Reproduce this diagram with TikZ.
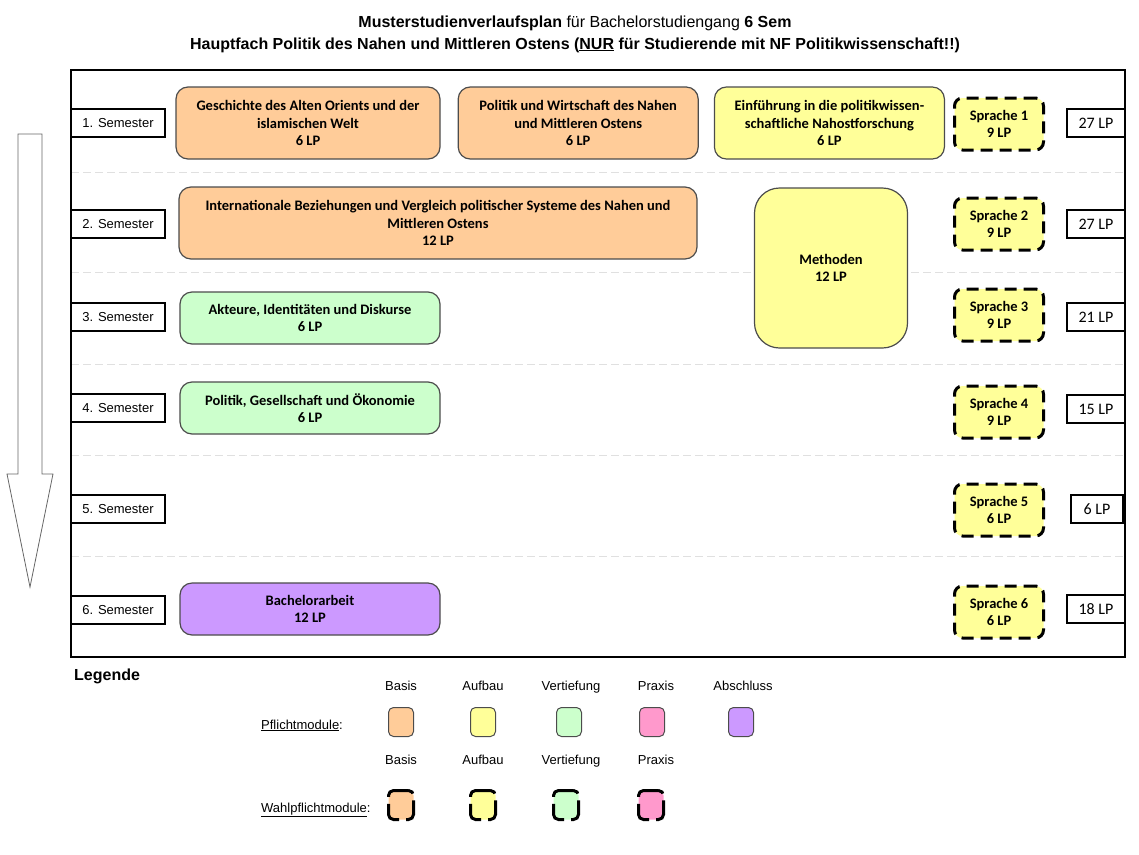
\documentclass[tikz,border=0pt]{standalone}
\usepackage{fontspec}
\setmainfont{Liberation Sans}
\newfontfamily\modfont{Carlito}
\usetikzlibrary{positioning}
\definecolor{basis}{HTML}{FFCC99}
\definecolor{aufbau}{HTML}{FFFF99}
\definecolor{vertiefung}{HTML}{CCFFCC}
\definecolor{praxis}{HTML}{FF99CC}
\definecolor{abschluss}{HTML}{CC99FF}
\newcommand{\semfont}{\fontsize{13}{15}\selectfont}
\newcommand{\modfnt}{\modfont\bfseries\fontsize{14.5}{17.5}\selectfont}

\begin{document}
\begin{tikzpicture}[x=1pt, y=-1pt,
        sem/.style={draw, line width=1.2pt, fill=white, minimum width=94pt, minimum height=28pt, inner sep=0pt, font=\semfont},
        lp/.style={draw, line width=1.2pt, fill=white, minimum width=58pt, minimum height=28pt, inner sep=0pt, font=\modfont\fontsize{16}{18}\selectfont},
        modul/.style={draw=black!70, line width=1.2pt, rounded corners=12pt, align=center, inner sep=0pt, font=\modfnt},
        sprache/.style={draw, line width=3pt, dash pattern=on 12pt off 7pt, rounded corners=8pt, fill=aufbau, minimum width=89pt, minimum height=52pt, align=center, inner sep=0pt, font=\modfnt},
        trenner/.style={black!12, line width=1pt, dash pattern=on 8pt off 4pt},
        farbe/.style={draw=black!70, line width=1pt, rounded corners=5pt, minimum width=25pt, minimum height=29pt, inner sep=0pt},
        wfarbe/.style={farbe, draw=black, line width=3pt, dash pattern=on 24pt off 7pt},
        leg/.style={font=\fontsize{13}{15}\selectfont, inner sep=0pt, anchor=base}]
        \useasboundingbox (0,0) rectangle (1139,854);%
        % Titel
        \node[font=\fontsize{16}{19}\selectfont] (titel1) at (575,23) {\textbf{Musterstudienverlaufsplan} für Bachelorstudiengang \textbf{6 Sem}};%
        \node[font=\bfseries\fontsize{16}{19}\selectfont] (titel2) at (575,45) {Hauptfach Politik des Nahen und Mittleren Ostens (\underline{NUR} für Studierende mit NF Politikwissenschaft!!)};%
        % Rahmen und Trennlinien
        \draw[trenner] (71,172) -- (1125,172);%
        \draw[trenner] (71,272) -- (1125,272);%
        \draw[trenner] (71,364) -- (1125,364);%
        \draw[trenner] (71,455) -- (1125,455);%
        \draw[trenner] (71,556) -- (1125,556);%
        \draw[line width=1.2pt] (71,70) rectangle (1125,657);%
        % Zeitpfeil
        \draw[black!60, line width=0.8pt, fill=white] (18,134) -- (42,134) -- (42,474) -- (53,474) -- (30,587) -- (7,474) -- (18,474) -- cycle;%
        % Semester
        \node[sem] (s1) at (118,123) {1. Semester};%
        \node[sem] (s2) at (118,224) {2. Semester};%
        \node[sem] (s3) at (118,317) {3. Semester};%
        \node[sem] (s4) at (118,408) {4. Semester};%
        \node[sem] (s5) at (118,509) {5. Semester};%
        \node[sem] (s6) at (118,610) {6. Semester};%
        % Module
        \node[modul, fill=basis, minimum width=264pt, minimum height=72pt] (gesch) at (308,123) {Geschichte des Alten Orients und der\\islamischen Welt\\6 LP};%
        \node[modul, fill=basis, minimum width=240pt, minimum height=72pt, right=17pt of gesch] (polwirt) {Politik und Wirtschaft des Nahen\\und Mittleren Ostens\\6 LP};%
        \node[modul, fill=aufbau, minimum width=230pt, minimum height=72pt, right=15pt of polwirt] (einf) {Einführung in die politikwissen-\\schaftliche Nahostforschung\\6 LP};%
        \node[modul, fill=basis, minimum width=518pt, minimum height=72pt] (intbez) at (438,223) {Internationale Beziehungen und Vergleich politischer Systeme des Nahen und\\Mittleren Ostens\\12 LP};%
        \node[modul, fill=aufbau, minimum width=153pt, minimum height=160pt, rounded corners=25pt] (meth) at (831,268) {Methoden\\12 LP};%
        \node[modul, fill=vertiefung, minimum width=260pt, minimum height=52pt] (akteure) at (310,318) {Akteure, Identitäten und Diskurse\\6 LP};%
        \node[modul, fill=vertiefung, minimum width=260pt, minimum height=52pt] (polges) at (310,408) {Politik, Gesellschaft und Ökonomie\\6 LP};%
        \node[modul, fill=abschluss, minimum width=260pt, minimum height=52pt] (ba) at (310,609) {Bachelorarbeit\\12 LP};%
        % Sprachen
        \node[sprache] (sp1) at (999,124) {Sprache 1\\9 LP};%
        \node[sprache] (sp2) at (999,224) {Sprache 2\\9 LP};%
        \node[sprache] (sp3) at (999,315) {Sprache 3\\9 LP};%
        \node[sprache] (sp4) at (999,412) {Sprache 4\\9 LP};%
        \node[sprache] (sp5) at (999,510) {Sprache 5\\6 LP};%
        \node[sprache] (sp6) at (999,612) {Sprache 6\\6 LP};%
        % Leistungspunkte
        \node[lp] (lp1) at (1096,123) {27 LP};%
        \node[lp] (lp2) at (1096,224) {27 LP};%
        \node[lp] (lp3) at (1096,317) {21 LP};%
        \node[lp] (lp4) at (1096,409) {15 LP};%
        \node[lp, minimum width=52pt] (lp5) at (1097,509) {6 LP};%
        \node[lp] (lp6) at (1096,609) {18 LP};%
        % Legende
        \node[font=\bfseries\fontsize{16}{19}\selectfont, anchor=west, inner sep=0pt] (legende) at (74,676) {Legende};%
        \node[leg, anchor=base west] (pflicht) at (261,729) {\underline{Pflichtmodule}:};%
        \node[leg, anchor=base west] (wahl) at (261,812) {\underline{Wahlpflichtmodule}:};%
        \node[farbe, fill=basis] (p1) at (401,722) {};%
        \node[farbe, fill=aufbau] (p2) at (483,722) {};%
        \node[farbe, fill=vertiefung] (p3) at (569,722) {};%
        \node[farbe, fill=praxis] (p4) at (652,722) {};%
        \node[farbe, fill=abschluss] (p5) at (741,722) {};%
        \node[wfarbe, fill=basis] (w1) at (401,805) {};%
        \node[wfarbe, fill=aufbau] (w2) at (483,805) {};%
        \node[wfarbe, fill=vertiefung] (w3) at (566,805) {};%
        \node[wfarbe, fill=praxis] (w4) at (651,805) {};%
        \node[leg] (pl1) at (401,690) {Basis};%
        \node[leg] (pl2) at (483,690) {Aufbau};%
        \node[leg] (pl3) at (571,690) {Vertiefung};%
        \node[leg] (pl4) at (656,690) {Praxis};%
        \node[leg] (pl5) at (743,690) {Abschluss};%
        \node[leg] (wl1) at (401,764) {Basis};%
        \node[leg] (wl2) at (483,764) {Aufbau};%
        \node[leg] (wl3) at (571,764) {Vertiefung};%
        \node[leg] (wl4) at (656,764) {Praxis};%
      \end{tikzpicture}
\end{document}
